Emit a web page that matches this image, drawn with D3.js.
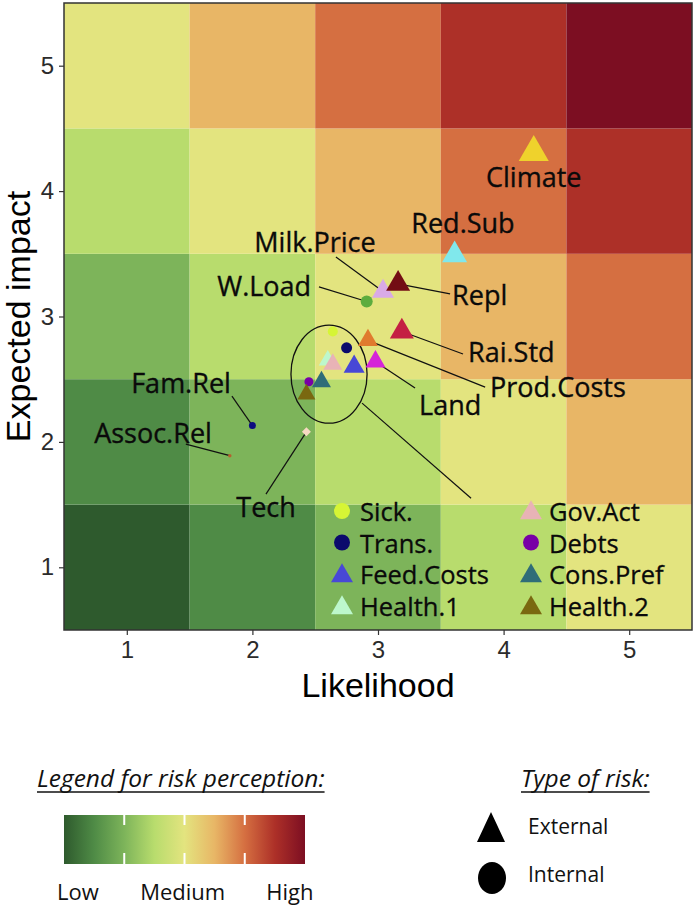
<!DOCTYPE html>
<html><head><meta charset="utf-8">
<script src="https://cdn.jsdelivr.net/npm/d3@7"></script>
<style>body{margin:0;background:#fff}svg{display:block}</style>
</head><body><svg id="c" width="696" height="906"></svg>
<script>
// ---------- data ----------
const likelihoodTicks = [1, 2, 3, 4, 5];
const impactTicks = [1, 2, 3, 4, 5];
// tile colour by risk score (likelihood + impact = 2 .. 10)
const riskLevelColors = ["#2e5a2d", "#4f8b46", "#7db45a", "#b8dc6d", "#e3e47f", "#e8b666", "#d56f41", "#ad3028", "#7c0e22"];

const riskNames  = ["Climate","Red.Sub","Milk.Price","Repl","W.Load","Rai.Std","Prod.Costs","Land","Health.1","Sick.","Trans.","Gov.Act","Feed.Costs","Debts","Cons.Pref","Health.2","Fam.Rel","Assoc.Rel","Tech"];
const likelihood = [4.24, 3.61, 3.04, 3.16, 2.91, 3.19, 2.92, 2.98, 2.60, 2.64, 2.75, 2.64, 2.81, 2.45, 2.55, 2.43, 2.00, 1.82, 2.43];
const impact     = [4.31, 3.49, 3.20, 3.26, 3.12, 2.88, 2.81, 2.64, 2.65, 2.88, 2.75, 2.62, 2.60, 2.48, 2.48, 2.38, 2.13, 1.89, 2.08];
const riskType   = ["External","External","External","External","Internal","External","External","External","External","Internal","Internal","External","External","Internal","External","External","Internal","Internal","Other"];

const legendNames = ["Sick.","Trans.","Feed.Costs","Health.1","Gov.Act","Debts","Cons.Pref","Health.2"];
const colorbarLabels = ["Low", "Medium", "High"];
const typeLabels = ["External", "Internal"];

// ---------- styles ----------
const markerColor = {"Climate":"#efd22c","Red.Sub":"#80e8ec","Milk.Price":"#d9aae6","Repl":"#730d14","W.Load":"#5dac3e","Rai.Std":"#c41f43","Prod.Costs":"#e07a2e","Land":"#d524d8","Health.1":"#bdf7cc","Sick.":"#d6f535","Trans.":"#0b0b6c","Gov.Act":"#e8b3b6","Feed.Costs":"#4848d6","Debts":"#7800a6","Cons.Pref":"#2f6d78","Health.2":"#7a6810","Fam.Rel":"#0c0c80","Assoc.Rel":"#b4602e","Tech":"#f7d9c2"};
const markerPx = {"Climate":30,"Red.Sub":25,"Milk.Price":22,"Repl":24,"W.Load":12,"Rai.Std":24,"Prod.Costs":20,"Land":20,"Health.1":18,"Sick.":10,"Trans.":11,"Gov.Act":19,"Feed.Costs":21,"Debts":9,"Cons.Pref":19,"Health.2":18,"Fam.Rel":7,"Assoc.Rel":3.5,"Tech":9};
// label placement in data units: [textStartX, baselineY, leaderStartX, leaderStartY]
const labelLayout = {
  "Climate":[3.86,4.034,null,null],
  "Red.Sub":[3.265,3.667,null,null],
  "Repl":[3.590,3.092,3.574,3.180],
  "Milk.Price":[2.015,3.515,2.665,3.475],
  "W.Load":[1.72,3.164,2.530,3.236],
  "Rai.Std":[3.717,2.637,3.677,2.701],
  "Prod.Costs":[3.892,2.357,3.853,2.437],
  "Land":[3.327,2.214,3.295,2.429],
  "Fam.Rel":[1.035,2.389,1.837,2.365],
  "Assoc.Rel":[0.74,1.990,1.470,1.982],
  "Tech":[1.872,1.399,2.108,1.583]
};
const clusterEllipse = {cx:2.61, cy:2.54, rx:0.303, ry:0.391, lineFrom:[2.873,2.309], lineTo:[3.741,1.551]};

const labelFont = "'Open Sans', sans-serif";
const axisFont = "'Liberation Sans', Arial, sans-serif";

// ---------- chart ----------
const svg = d3.select("#c");
const plot = {left:64, right:692, top:3, bottom:630};
const x = d3.scaleLinear().domain([0.5, 5.5]).range([plot.left, plot.right]);
const y = d3.scaleLinear().domain([0.5, 5.5]).range([plot.bottom, plot.top]);

const tiles = [];
likelihoodTicks.forEach(l => impactTicks.forEach(i => tiles.push({l, i})));
svg.append("g").selectAll("rect").data(tiles).join("rect")
  .attr("x", d => x(d.l - 0.5)).attr("y", d => y(d.i + 0.5))
  .attr("width", d => x(d.l + 0.5) - x(d.l - 0.5))
  .attr("height", d => y(d.i - 0.5) - y(d.i + 0.5))
  .attr("fill", d => riskLevelColors[d.l + d.i - 2]);

// axes
const xAxis = svg.append("g").attr("transform", `translate(0,${plot.bottom})`)
  .call(d3.axisBottom(x).tickValues(likelihoodTicks).tickSize(5).tickPadding(6).tickFormat(d3.format("d")));
const yAxis = svg.append("g").attr("transform", `translate(${plot.left},0)`)
  .call(d3.axisLeft(y).tickValues(impactTicks).tickSize(5).tickPadding(5).tickFormat(d3.format("d")));
[xAxis, yAxis].forEach(a => {
  a.select(".domain").remove();
  a.selectAll("line").attr("stroke", "#333").attr("stroke-width", 1.2);
  a.selectAll("text").attr("fill", "#2b2b2b").style("font-family", axisFont).style("font-size", "24px");
});

svg.append("text").attr("x", (plot.left + plot.right) / 2).attr("y", 697)
  .attr("text-anchor", "middle").style("font-family", axisFont).style("font-size", "34px").attr("fill", "#000")
  .text("Likelihood");
svg.append("text").attr("transform", `translate(30,${(plot.top + plot.bottom) / 2}) rotate(-90)`)
  .attr("text-anchor", "middle").style("font-family", axisFont).style("font-size", "34px").attr("fill", "#000")
  .text("Expected impact");

const pts = riskNames.map((n, k) => ({name:n, lx:likelihood[k], im:impact[k], type:riskType[k]}));

// leader lines
const leaders = svg.append("g").attr("stroke", "#111").attr("stroke-width", 1.2);
pts.forEach(p => {
  const L = labelLayout[p.name];
  if (L && L[2] != null) {
    leaders.append("line").attr("x1", x(L[2])).attr("y1", y(L[3])).attr("x2", x(p.lx)).attr("y2", y(p.im));
  }
});
// cluster ellipse
const E = clusterEllipse;
svg.append("ellipse").attr("cx", x(E.cx)).attr("cy", y(E.cy))
  .attr("rx", x(E.cx + E.rx) - x(E.cx)).attr("ry", y(E.cy) - y(E.cy + E.ry))
  .attr("fill", "none").attr("stroke", "#111").attr("stroke-width", 1.3);
svg.append("line").attr("x1", x(E.lineFrom[0])).attr("y1", y(E.lineFrom[1]))
  .attr("x2", x(E.lineTo[0])).attr("y2", y(E.lineTo[1])).attr("stroke", "#111").attr("stroke-width", 1.2);

function symbolPath(type, px) {
  if (type === "External") return d3.symbol(d3.symbolTriangle, px * px * Math.sqrt(3) / 4)();
  if (type === "Internal") return d3.symbol(d3.symbolCircle, Math.PI * px * px / 4)();
  return d3.symbol(d3.symbolSquare, px * px / 2)();
}

svg.append("g").selectAll("path").data(pts).join("path")
  .attr("d", d => symbolPath(d.type, markerPx[d.name]))
  .attr("transform", d => `translate(${x(d.lx)},${y(d.im)})` + (d.type === "Other" ? " rotate(45)" : ""))
  .attr("fill", d => markerColor[d.name]);

// point labels
svg.append("g").selectAll("text").data(pts.filter(p => labelLayout[p.name])).join("text")
  .attr("x", d => x(labelLayout[d.name][0])).attr("y", d => y(labelLayout[d.name][1]))
  .style("font-family", labelFont).style("font-size", "27px").attr("fill", "#0a0a0a")
  .attr("stroke", "#0a0a0a").attr("stroke-width", 0.35)
  .text(d => d.name);

// in-plot legend
const legRows = [511, 542.5, 574, 606];
const legCols = [342, 531];
const lg = svg.append("g");
legendNames.forEach((n, k) => {
  const col = Math.floor(k / 4), row = k % 4;
  const t = riskType[riskNames.indexOf(n)];
  const cx = legCols[col], cy = legRows[row];
  lg.append("path").attr("d", t === "External" ? d3.symbol(d3.symbolTriangle, 22 * 22 * Math.sqrt(3) / 4)() : d3.symbol(d3.symbolCircle, Math.PI * 64)())
    .attr("transform", `translate(${cx},${cy + (t === "External" ? 2 : 0)})`).attr("fill", markerColor[n]);
  lg.append("text").attr("x", cx + 18).attr("y", cy + 10)
    .style("font-family", labelFont).style("font-size", "25.5px").attr("fill", "#0a0a0a")
    .attr("stroke", "#0a0a0a").attr("stroke-width", 0.3).text(n);
});

// plot border
svg.append("rect").attr("x", plot.left).attr("y", plot.top)
  .attr("width", plot.right - plot.left).attr("height", plot.bottom - plot.top)
  .attr("fill", "none").attr("stroke", "#333").attr("stroke-width", 1.5);

// ---------- bottom legends ----------
function underlinedTitle(tx, ty, txt) {
  const t = svg.append("text").attr("x", tx).attr("y", ty)
    .style("font-family", labelFont).style("font-size", "24.5px").style("font-style", "italic").attr("fill", "#111").text(txt);
  const w = t.node().getComputedTextLength();
  svg.append("line").attr("x1", tx).attr("x2", tx + w).attr("y1", ty + 5).attr("y2", ty + 5)
    .attr("stroke", "#111").attr("stroke-width", 1.3);
}
underlinedTitle(37, 787, "Legend for risk perception:");
underlinedTitle(521, 787, "Type of risk:");

const bar = {x0:64, x1:305, y0:815, y1:864};
const grad = svg.append("defs").append("linearGradient").attr("id", "rg");
riskLevelColors.forEach((c, k) => grad.append("stop").attr("offset", (k / (riskLevelColors.length - 1))).attr("stop-color", c));
svg.append("rect").attr("x", bar.x0).attr("y", bar.y0).attr("width", bar.x1 - bar.x0).attr("height", bar.y1 - bar.y0).attr("fill", "url(#rg)");
const barScale = d3.scaleLinear().domain([0, 4]).range([bar.x0, bar.x1]);
[1, 2, 3].forEach(v => {
  svg.append("line").attr("x1", barScale(v)).attr("x2", barScale(v)).attr("y1", bar.y0).attr("y2", bar.y0 + 10).attr("stroke", "#fff").attr("stroke-width", 2);
  svg.append("line").attr("x1", barScale(v)).attr("x2", barScale(v)).attr("y1", bar.y1 - 11).attr("y2", bar.y1).attr("stroke", "#fff").attr("stroke-width", 2);
});
const lblPos = [0.23, 1.97, 3.75];
colorbarLabels.forEach((t, k) => svg.append("text").attr("x", barScale(lblPos[k])).attr("y", 900)
  .attr("text-anchor", "middle").style("font-family", labelFont).style("font-size", "22px").attr("fill", "#111").text(t));

svg.append("path").attr("d", "M491,812 L505,842 L477,842 Z").attr("fill", "#000");
svg.append("ellipse").attr("cx", 492).attr("cy", 878).attr("rx", 14).attr("ry", 16).attr("fill", "#000");
svg.append("text").attr("x", 528).attr("y", 834).style("font-family", labelFont).style("font-size", "21px").attr("fill", "#111").text(typeLabels[0]);
svg.append("text").attr("x", 528).attr("y", 882).style("font-family", labelFont).style("font-size", "21px").attr("fill", "#111").text(typeLabels[1]);
</script></body></html>
